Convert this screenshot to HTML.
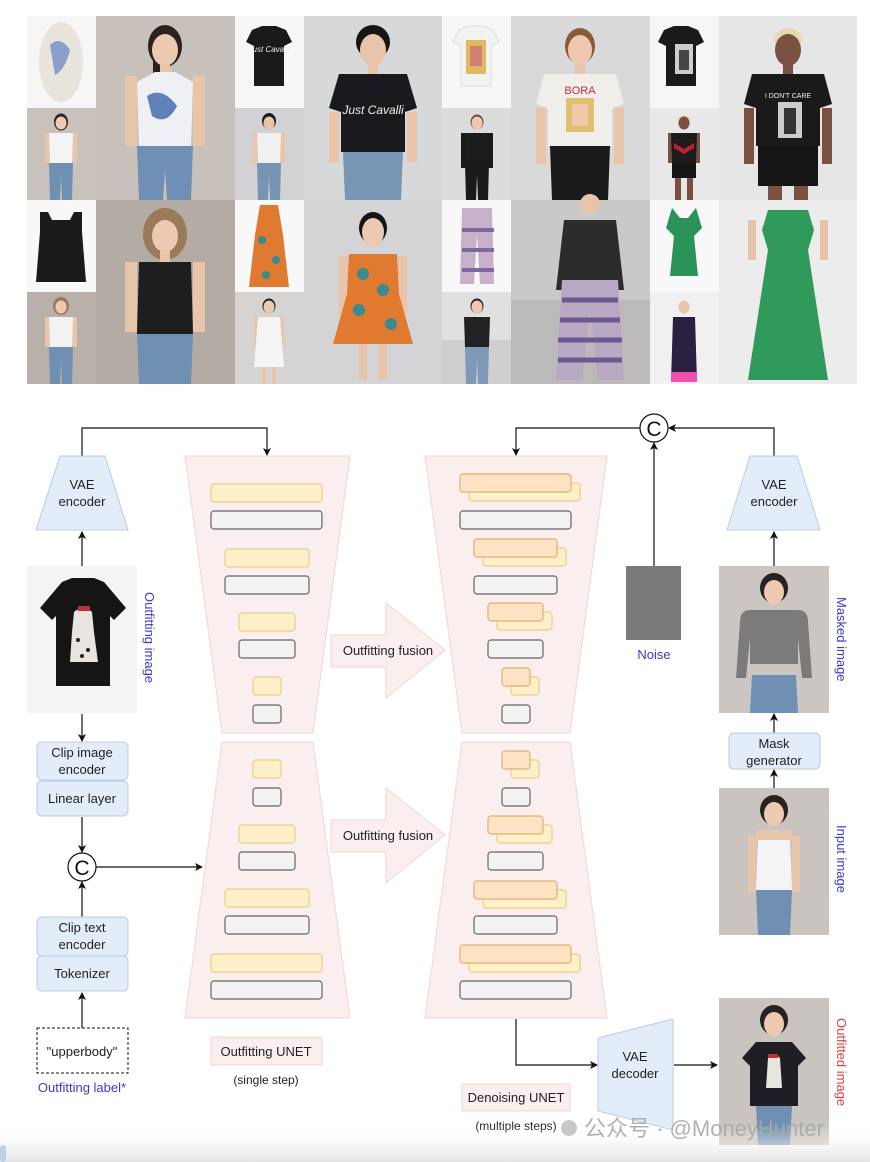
<!DOCTYPE html>
<html><head><meta charset="utf-8"><style>
html,body{margin:0;padding:0;background:#fff;}
svg{display:block;font-family:"Liberation Sans","Noto Sans CJK SC",sans-serif;}
</style></head><body>
<svg width="870" height="1162" viewBox="0 0 870 1162" xmlns="http://www.w3.org/2000/svg">
<defs>
<marker id="ah" markerWidth="8" markerHeight="8" refX="7" refY="4" orient="auto" markerUnits="userSpaceOnUse">
<path d="M0,0 L8,4 L0,8 L2,4 z" fill="#111"/></marker>
<linearGradient id="bot" x1="0" y1="0" x2="0" y2="1"><stop offset="0" stop-color="#fff" stop-opacity="0"/><stop offset="1" stop-color="#e4e4e4"/></linearGradient>
</defs>

<!-- ===== PHOTO GRID ===== -->
<!-- small garment cells -->
<rect x="27" y="16" width="69" height="92" fill="#f6f6f6"/>
<rect x="235" y="16" width="69" height="92" fill="#f6f6f6"/>
<rect x="442" y="16" width="69" height="92" fill="#f6f6f6"/>
<rect x="650" y="16" width="69" height="92" fill="#f6f6f6"/>
<rect x="27" y="200" width="69" height="92" fill="#f8f8f8"/>
<rect x="235" y="200" width="69" height="92" fill="#f8f8f8"/>
<rect x="442" y="200" width="69" height="92" fill="#f8f8f8"/>
<rect x="650" y="200" width="69" height="92" fill="#f8f8f8"/>
<!-- garments -->
<ellipse cx="61" cy="62" rx="22" ry="40" fill="#e8e4dc"/><path d="M50,45 q10,-10 20,5 q-5,20 -15,25z" fill="#8aa0c8"/>
<path d="M252,30 l10,-4 h14 l10,4 l6,12 l-8,4 v40 h-30 v-40 l-8,-4z" fill="#1a1a1c"/><text x="269" y="52" font-size="8" fill="#eee" text-anchor="middle" font-style="italic">Just Cavalli</text>
<path d="M459,30 l10,-4 h14 l10,4 l6,12 l-8,4 v40 h-30 v-40 l-8,-4z" fill="#f2f2f2" stroke="#ddd"/><rect x="466" y="40" width="20" height="34" fill="#e0b860"/><rect x="470" y="46" width="12" height="20" fill="#d08070"/>
<path d="M664,30 l10,-4 h14 l10,4 l6,12 l-8,4 v40 h-30 v-40 l-8,-4z" fill="#1a1a1c"/><rect x="675" y="44" width="18" height="30" fill="#ccc"/><rect x="679" y="50" width="10" height="20" fill="#444"/>
<path d="M40,212 h8 l4,8 h18 l4,-8 h8 v20 l4,50 h-50 l4,-50z" fill="#1b1b1b"/>
<path d="M260,205 h18 l5,30 l6,52 h-40 l6,-52z" fill="#e07a30"/><circle cx="262" cy="240" r="4" fill="#3a8a90"/><circle cx="276" cy="260" r="4" fill="#3a8a90"/><circle cx="266" cy="275" r="4" fill="#3a8a90"/>
<path d="M462,208 h30 l2,76 h-14 l-3,-50 l-3,50 h-14z" fill="#c8b0c8"/><path d="M462,230 h32 M462,250 h32 M462,270 h32" stroke="#7a6aa0" stroke-width="4"/>
<path d="M672,208 l8,10 h8 l8,-10 l6,20 l-8,8 l4,40 h-28 l4,-40 l-8,-8z" fill="#2a9458"/>

<!-- person helper: drawn manually -->
<!-- Small persons row1 -->
<rect x="27" y="108" width="69" height="92" fill="#c9c1bc"/>
<g transform="translate(61,108) scale(0.5)"><ellipse cx="0" cy="28" rx="14" ry="17" fill="#2a2220"/><ellipse cx="0" cy="30" rx="11" ry="13" fill="#ecc9b0"/><rect x="-32" y="50" width="10" height="60" fill="#e8c4a8"/><rect x="22" y="50" width="10" height="60" fill="#e8c4a8"/><path d="M-24,50 h48 l-2,60 h-44z" fill="#f4f4f4"/><path d="M-24,110 h48 l-2,74 h-20 l-2,-50 l-2,50 h-20z" fill="#6f8fb3"/></g>
<rect x="235" y="108" width="69" height="92" fill="#d2d2d4"/>
<g transform="translate(269,108) scale(0.5)"><ellipse cx="0" cy="26" rx="14" ry="16" fill="#1a1a1a"/><ellipse cx="0" cy="30" rx="11" ry="13" fill="#e8c4a8"/><rect x="-32" y="50" width="10" height="60" fill="#e8c4a8"/><rect x="22" y="50" width="10" height="60" fill="#e8c4a8"/><path d="M-24,50 h48 l-2,60 h-44z" fill="#f0f0f0"/><path d="M-24,110 h48 l-2,74 h-20 l-2,-50 l-2,50 h-20z" fill="#7794b4"/></g>
<rect x="442" y="108" width="69" height="92" fill="#dcdcdc"/>
<g transform="translate(477,108) scale(0.5)"><ellipse cx="0" cy="28" rx="13" ry="15" fill="#6a4a3a"/><ellipse cx="0" cy="30" rx="11" ry="13" fill="#ecc9b0"/><rect x="-32" y="50" width="10" height="70" fill="#1a1a1a"/><rect x="22" y="50" width="10" height="70" fill="#1a1a1a"/><path d="M-24,50 h48 l-2,60 h-44z" fill="#1c1c1c"/><path d="M-24,110 h48 l-2,74 h-20 l-2,-50 l-2,50 h-20z" fill="#1a1a1a"/></g>
<rect x="650" y="108" width="69" height="92" fill="#e8e8e8"/>
<g transform="translate(684,108) scale(0.5)"><ellipse cx="0" cy="24" rx="12" ry="10" fill="#e8d8b0"/><ellipse cx="0" cy="30" rx="11" ry="13" fill="#7a5040"/><rect x="-32" y="50" width="10" height="60" fill="#7a5040"/><rect x="22" y="50" width="10" height="60" fill="#7a5040"/><path d="M-26,50 h52 l-2,60 h-48z" fill="#1c1c1c"/><path d="M-20,70 l20,12 l20,-12 v10 l-20,12 l-20,-12z" fill="#c02030"/><path d="M-24,110 h48 v30 h-48z" fill="#151515"/><rect x="-18" y="140" width="12" height="44" fill="#7a5040"/><rect x="6" y="140" width="12" height="44" fill="#7a5040"/></g>
<!-- Small persons row2 -->
<rect x="27" y="292" width="69" height="92" fill="#b9b0aa"/>
<g transform="translate(61,292) scale(0.5)"><ellipse cx="0" cy="28" rx="16" ry="18" fill="#9a7a58"/><ellipse cx="0" cy="30" rx="11" ry="13" fill="#ecc9b0"/><rect x="-32" y="50" width="10" height="60" fill="#e8c4a8"/><rect x="22" y="50" width="10" height="60" fill="#e8c4a8"/><path d="M-24,50 h48 l-2,60 h-44z" fill="#f2f2f2"/><path d="M-24,110 h48 l-2,74 h-20 l-2,-50 l-2,50 h-20z" fill="#6f8fb3"/></g>
<rect x="235" y="292" width="69" height="92" fill="#d6d4d2"/>
<g transform="translate(269,292) scale(0.5)"><ellipse cx="0" cy="28" rx="13" ry="15" fill="#1a1a1a"/><ellipse cx="0" cy="30" rx="11" ry="13" fill="#ecc9b0"/><rect x="-30" y="50" width="9" height="60" fill="#e8c4a8"/><rect x="21" y="50" width="9" height="60" fill="#e8c4a8"/><path d="M-22,50 h44 l8,100 h-60z" fill="#f4f4f4"/><rect x="-14" y="150" width="8" height="34" fill="#e8c4a8"/><rect x="6" y="150" width="8" height="34" fill="#e8c4a8"/></g>
<rect x="442" y="292" width="69" height="92" fill="#e0e0e0"/><rect x="442" y="340" width="69" height="44" fill="#d0cfcd"/>
<g transform="translate(477,292) scale(0.5)"><ellipse cx="0" cy="28" rx="13" ry="15" fill="#2a2220"/><ellipse cx="0" cy="30" rx="11" ry="13" fill="#ecc9b0"/><path d="M-26,50 h52 l-2,60 h-48z" fill="#222"/><path d="M-24,110 h48 l-2,74 h-20 l-2,-50 l-2,50 h-20z" fill="#7f9ab8"/></g>
<rect x="650" y="292" width="69" height="92" fill="#f0f0f0"/>
<g transform="translate(684,292) scale(0.5)"><ellipse cx="0" cy="30" rx="11" ry="13" fill="#e8c4a8"/><path d="M-22,50 h44 l4,130 h-52z" fill="#2a2040"/><rect x="-26" y="160" width="52" height="20" fill="#f050b0"/></g>

<!-- Big persons row1 -->
<rect x="96" y="16" width="139" height="184" fill="#c7c0bb"/>
<g transform="translate(165,16)"><ellipse cx="0" cy="30" rx="17" ry="21" fill="#2a2220"/><rect x="-12" y="30" width="8" height="50" fill="#2a2220"/><ellipse cx="0" cy="34" rx="13" ry="16" fill="#ecc9b0"/><rect x="-5" y="48" width="10" height="12" fill="#e8c4a8"/><rect x="-40" y="60" width="12" height="70" fill="#e8c4a8"/><rect x="28" y="60" width="12" height="70" fill="#e8c4a8"/><path d="M-10,56 h20 l18,10 l-2,64 h-52 l-2,-64z" fill="#eef0f4"/><path d="M-18,80 q15,-10 30,10 q-10,20 -25,10z" fill="#6080b8"/><path d="M-28,130 h56 l-2,54 h-24 l-2,-30 l-2,30 h-24z" fill="#6f90b4"/></g>
<rect x="304" y="16" width="138" height="184" fill="#d7d8da"/>
<g transform="translate(373,16)"><ellipse cx="0" cy="26" rx="17" ry="17" fill="#151515"/><ellipse cx="0" cy="34" rx="13" ry="16" fill="#e8c4a8"/><rect x="-5" y="48" width="10" height="12" fill="#e8c4a8"/><path d="M-34,58 h68 l10,34 l-12,4 v40 h-64 v-40 l-12,-4z" fill="#1a1a1e"/><text x="0" y="98" font-size="12" fill="#eee" text-anchor="middle" font-style="italic">Just Cavalli</text><rect x="-44" y="96" width="10" height="50" fill="#e8c4a8"/><rect x="34" y="96" width="10" height="50" fill="#e8c4a8"/><path d="M-30,136 h60 l-2,48 h-56z" fill="#7996b4"/></g>
<rect x="511" y="16" width="139" height="184" fill="#d9d9d9"/>
<g transform="translate(580,16)"><ellipse cx="0" cy="30" rx="15" ry="18" fill="#8a5a3a"/><ellipse cx="0" cy="34" rx="12" ry="15" fill="#ecc9b0"/><rect x="-5" y="48" width="10" height="12" fill="#e8c4a8"/><path d="M-36,58 h72 l8,30 l-12,4 v38 h-64 v-38 l-12,-4z" fill="#f0eeea"/><text x="0" y="78" font-size="11" fill="#c03030" text-anchor="middle">BORA</text><rect x="-14" y="82" width="28" height="34" fill="#e0c070"/><rect x="-8" y="88" width="16" height="22" fill="#f0c8a8"/><rect x="-44" y="92" width="10" height="56" fill="#e8c4a8"/><rect x="34" y="92" width="10" height="56" fill="#e8c4a8"/><path d="M-30,130 h60 l-2,54 h-56z" fill="#1b1b1b"/></g>
<rect x="719" y="16" width="138" height="184" fill="#e6e6e6"/>
<g transform="translate(788,16)"><ellipse cx="0" cy="24" rx="14" ry="12" fill="#e8d8b0"/><ellipse cx="0" cy="34" rx="13" ry="16" fill="#7a5040"/><rect x="-5" y="48" width="10" height="12" fill="#7a5040"/><path d="M-36,58 h72 l8,30 l-12,4 v38 h-64 v-38 l-12,-4z" fill="#1a1a1a"/><text x="0" y="82" font-size="7" fill="#eee" text-anchor="middle">I DON'T CARE</text><rect x="-10" y="86" width="24" height="36" fill="#ccc"/><rect x="-4" y="92" width="12" height="26" fill="#333"/><rect x="-44" y="92" width="10" height="56" fill="#7a5040"/><rect x="34" y="92" width="10" height="56" fill="#7a5040"/><path d="M-30,130 h60 v40 h-60z" fill="#151515"/><rect x="-20" y="170" width="14" height="14" fill="#7a5040"/><rect x="6" y="170" width="14" height="14" fill="#7a5040"/></g>
<!-- Big persons row2 -->
<rect x="96" y="200" width="139" height="184" fill="#b4aba5"/>
<g transform="translate(165,200)"><ellipse cx="0" cy="34" rx="22" ry="26" fill="#9a7a58"/><ellipse cx="0" cy="36" rx="13" ry="16" fill="#ecc9b0"/><rect x="-5" y="50" width="10" height="12" fill="#e8c4a8"/><rect x="-40" y="62" width="12" height="70" fill="#e8c4a8"/><rect x="28" y="62" width="12" height="70" fill="#e8c4a8"/><path d="M-26,62 h52 l2,72 h-56z" fill="#1e1e1e"/><path d="M-28,134 h56 l-2,50 h-52z" fill="#6f8fb3"/></g>
<rect x="304" y="200" width="138" height="184" fill="#d4d4d6"/>
<g transform="translate(373,200)"><ellipse cx="0" cy="28" rx="14" ry="16" fill="#151515"/><ellipse cx="0" cy="32" rx="11" ry="14" fill="#ecc9b0"/><rect x="-34" y="56" width="9" height="60" fill="#e8c4a8"/><rect x="25" y="56" width="9" height="60" fill="#e8c4a8"/><path d="M-24,54 h48 l2,40 l14,50 h-80 l14,-50z" fill="#e07a30"/><circle cx="-10" cy="74" r="6" fill="#3a8a90"/><circle cx="10" cy="90" r="6" fill="#3a8a90"/><circle cx="-14" cy="110" r="6" fill="#3a8a90"/><circle cx="18" cy="124" r="6" fill="#3a8a90"/><rect x="-14" y="144" width="8" height="36" fill="#e8c4a8"/><rect x="6" y="144" width="8" height="36" fill="#e8c4a8"/></g>
<rect x="511" y="200" width="139" height="184" fill="#cbc9c7"/><rect x="511" y="300" width="139" height="84" fill="#bcbab8"/>
<g transform="translate(590,200)"><ellipse cx="0" cy="4" rx="10" ry="10" fill="#e8c4a8"/><path d="M-26,20 h52 l8,70 h-68z" fill="#2c2c2c"/><path d="M-28,80 h56 l6,100 h-26 l-8,-70 l-8,70 h-26z" fill="#b8a8c4"/><path d="M-28,100 h56 M-30,120 h60 M-32,140 h64 M-32,160 h64" stroke="#6a5a90" stroke-width="5"/></g>
<rect x="719" y="200" width="138" height="184" fill="#ececec"/>
<g transform="translate(788,200)"><path d="M-20,10 h40 l6,20 l-6,20 l20,130 h-80 l20,-130 l-6,-20z" fill="#2f9a5a"/><rect x="-40" y="20" width="8" height="40" fill="#e8c4a8"/><rect x="32" y="20" width="8" height="40" fill="#e8c4a8"/></g>

<!-- ===== DIAGRAM ===== -->
<g fill="none" stroke="#111" stroke-width="1.2">
<path d="M82,457 V428 H267 V455" marker-end="url(#ah)"/>
<path d="M82,566 V532" marker-end="url(#ah)"/>
<path d="M82,714 V741" marker-end="url(#ah)"/>
<path d="M82,817 V852" marker-end="url(#ah)"/>
<path d="M82,917 V882" marker-end="url(#ah)"/>
<path d="M82,1028 V993" marker-end="url(#ah)"/>
<path d="M96,867 H202" marker-end="url(#ah)"/>
<path d="M640,428 H516 V455" marker-end="url(#ah)"/>
<path d="M654,566 V443" marker-end="url(#ah)"/>
<path d="M774,457 V428 H669" marker-end="url(#ah)"/>
<path d="M774,566 V532" marker-end="url(#ah)"/>
<path d="M774,733 V714" marker-end="url(#ah)"/>
<path d="M774,788 V770" marker-end="url(#ah)"/>
<path d="M516,1019 V1065 H597" marker-end="url(#ah)"/>
<path d="M674,1065 H717" marker-end="url(#ah)"/>
</g>

<!-- VAE encoders -->
<path d="M60,456 H105 L128,530 H36 Z" fill="#e3ecf9" stroke="#b9cbe6"/>
<text x="82" y="489" font-size="13" text-anchor="middle" fill="#222">VAE</text>
<text x="82" y="506" font-size="13" text-anchor="middle" fill="#222">encoder</text>
<path d="M750,456 H797 L820,530 H727 Z" fill="#e3ecf9" stroke="#b9cbe6"/>
<text x="774" y="489" font-size="13" text-anchor="middle" fill="#222">VAE</text>
<text x="774" y="506" font-size="13" text-anchor="middle" fill="#222">encoder</text>

<!-- outfitting image -->
<rect x="27" y="566" width="110" height="147" fill="#f4f4f4"/>
<path d="M62,582 l10,-4 h22 l10,4 l22,26 l-12,12 l-4,-4 v70 h-54 v-70 l-4,4 l-12,-12z" fill="#151515"/>
<path d="M74,612 q10,-8 18,0 l2,20 l4,30 h-28 l2,-30z" fill="#e8e4e0"/><circle cx="78" cy="640" r="2" fill="#222"/><circle cx="88" cy="650" r="2" fill="#222"/><circle cx="82" cy="656" r="2" fill="#222"/><rect x="78" y="606" width="12" height="5" fill="#c03030"/>
<text transform="translate(145,592) rotate(90)" font-size="13" fill="#3a3ad0">Outfitting image</text>

<!-- clip image encoder / linear layer -->
<rect x="37" y="742" width="91" height="38" rx="5" fill="#e3ecf9" stroke="#b9cbe6"/>
<text x="82" y="757" font-size="13" text-anchor="middle" fill="#222">Clip image</text>
<text x="82" y="774" font-size="13" text-anchor="middle" fill="#222">encoder</text>
<rect x="37" y="781" width="91" height="35" rx="5" fill="#e3ecf9" stroke="#b9cbe6"/>
<text x="82" y="803" font-size="13" text-anchor="middle" fill="#222">Linear layer</text>
<circle cx="82" cy="867" r="14" fill="#fff" stroke="#111" stroke-width="1.2"/>
<text x="82" y="875" font-size="21" text-anchor="middle" fill="#111">C</text>
<rect x="37" y="917" width="91" height="39" rx="5" fill="#e3ecf9" stroke="#b9cbe6"/>
<text x="82" y="932" font-size="13" text-anchor="middle" fill="#222">Clip text</text>
<text x="82" y="949" font-size="13" text-anchor="middle" fill="#222">encoder</text>
<rect x="37" y="956" width="91" height="35" rx="5" fill="#e3ecf9" stroke="#b9cbe6"/>
<text x="82" y="978" font-size="13" text-anchor="middle" fill="#222">Tokenizer</text>
<rect x="37" y="1028" width="91" height="45" fill="#fff" stroke="#111" stroke-dasharray="3,2"/>
<text x="82" y="1056" font-size="13" text-anchor="middle" fill="#222">"upperbody"</text>
<text x="82" y="1092" font-size="13" text-anchor="middle" fill="#3a3ad0">Outfitting label*</text>

<!-- Outfitting UNET -->
<path d="M185,456 H350 L313,733 H222 Z" fill="#fbeeee" stroke="#f2d4d4" stroke-linejoin="round"/>
<path d="M222,742 H313 L350,1018 H185 Z" fill="#fbeeee" stroke="#f2d4d4" stroke-linejoin="round"/>
<g stroke-width="1.2">
<rect x="211" y="484" width="111" height="18" rx="3" fill="#fdf0c8" stroke="#e8cf8a"/>
<rect x="211" y="511" width="111" height="18" rx="3" fill="#f3f3f3" stroke="#666"/>
<rect x="225" y="549" width="84" height="18" rx="3" fill="#fdf0c8" stroke="#e8cf8a"/>
<rect x="225" y="576" width="84" height="18" rx="3" fill="#f3f3f3" stroke="#666"/>
<rect x="239" y="613" width="56" height="18" rx="3" fill="#fdf0c8" stroke="#e8cf8a"/>
<rect x="239" y="640" width="56" height="18" rx="3" fill="#f3f3f3" stroke="#666"/>
<rect x="253" y="677" width="28" height="18" rx="3" fill="#fdf0c8" stroke="#e8cf8a"/>
<rect x="253" y="705" width="28" height="18" rx="3" fill="#f3f3f3" stroke="#666"/>
<rect x="253" y="760" width="28" height="18" rx="3" fill="#fdf0c8" stroke="#e8cf8a"/>
<rect x="253" y="788" width="28" height="18" rx="3" fill="#f3f3f3" stroke="#666"/>
<rect x="239" y="825" width="56" height="18" rx="3" fill="#fdf0c8" stroke="#e8cf8a"/>
<rect x="239" y="852" width="56" height="18" rx="3" fill="#f3f3f3" stroke="#666"/>
<rect x="225" y="889" width="84" height="18" rx="3" fill="#fdf0c8" stroke="#e8cf8a"/>
<rect x="225" y="916" width="84" height="18" rx="3" fill="#f3f3f3" stroke="#666"/>
<rect x="211" y="954" width="111" height="18" rx="3" fill="#fdf0c8" stroke="#e8cf8a"/>
<rect x="211" y="981" width="111" height="18" rx="3" fill="#f3f3f3" stroke="#666"/>
</g>
<rect x="211" y="1037" width="111" height="28" fill="#fbeeee" stroke="#f2d4d4"/>
<text x="266" y="1056" font-size="13" text-anchor="middle" fill="#222">Outfitting UNET</text>
<text x="266" y="1084" font-size="12" text-anchor="middle" fill="#222">(single step)</text>

<!-- fusion arrows -->
<path d="M331,635 H386 V603 L445,650 L386,698 V667 H331 Z" fill="#fbeeee" stroke="#f2d4d4"/>
<text x="388" y="655" font-size="13" text-anchor="middle" fill="#222">Outfitting fusion</text>
<path d="M331,820 H386 V788 L445,835 L386,883 V852 H331 Z" fill="#fbeeee" stroke="#f2d4d4"/>
<text x="388" y="840" font-size="13" text-anchor="middle" fill="#222">Outfitting fusion</text>

<!-- Denoising UNET -->
<path d="M425,456 H607 L570,733 H462 Z" fill="#fbeeee" stroke="#f2d4d4" stroke-linejoin="round"/>
<path d="M462,742 H570 L607,1018 H425 Z" fill="#fbeeee" stroke="#f2d4d4" stroke-linejoin="round"/>
<g stroke-width="1.2">
<rect x="469" y="483" width="111" height="18" rx="3" fill="#fdf0c8" stroke="#e8cf8a"/>
<rect x="460" y="474" width="111" height="18" rx="3" fill="#fde2c4" stroke="#e0b070"/>
<rect x="460" y="511" width="111" height="18" rx="3" fill="#f3f3f3" stroke="#666"/>
<rect x="483" y="548" width="83" height="18" rx="3" fill="#fdf0c8" stroke="#e8cf8a"/>
<rect x="474" y="539" width="83" height="18" rx="3" fill="#fde2c4" stroke="#e0b070"/>
<rect x="474" y="576" width="83" height="18" rx="3" fill="#f3f3f3" stroke="#666"/>
<rect x="497" y="612" width="55" height="18" rx="3" fill="#fdf0c8" stroke="#e8cf8a"/>
<rect x="488" y="603" width="55" height="18" rx="3" fill="#fde2c4" stroke="#e0b070"/>
<rect x="488" y="640" width="55" height="18" rx="3" fill="#f3f3f3" stroke="#666"/>
<rect x="511" y="677" width="28" height="18" rx="3" fill="#fdf0c8" stroke="#e8cf8a"/>
<rect x="502" y="668" width="28" height="18" rx="3" fill="#fde2c4" stroke="#e0b070"/>
<rect x="502" y="705" width="28" height="18" rx="3" fill="#f3f3f3" stroke="#666"/>
<rect x="511" y="760" width="28" height="18" rx="3" fill="#fdf0c8" stroke="#e8cf8a"/>
<rect x="502" y="751" width="28" height="18" rx="3" fill="#fde2c4" stroke="#e0b070"/>
<rect x="502" y="788" width="28" height="18" rx="3" fill="#f3f3f3" stroke="#666"/>
<rect x="497" y="825" width="55" height="18" rx="3" fill="#fdf0c8" stroke="#e8cf8a"/>
<rect x="488" y="816" width="55" height="18" rx="3" fill="#fde2c4" stroke="#e0b070"/>
<rect x="488" y="852" width="55" height="18" rx="3" fill="#f3f3f3" stroke="#666"/>
<rect x="483" y="890" width="83" height="18" rx="3" fill="#fdf0c8" stroke="#e8cf8a"/>
<rect x="474" y="881" width="83" height="18" rx="3" fill="#fde2c4" stroke="#e0b070"/>
<rect x="474" y="916" width="83" height="18" rx="3" fill="#f3f3f3" stroke="#666"/>
<rect x="469" y="954" width="111" height="18" rx="3" fill="#fdf0c8" stroke="#e8cf8a"/>
<rect x="460" y="945" width="111" height="18" rx="3" fill="#fde2c4" stroke="#e0b070"/>
<rect x="460" y="981" width="111" height="18" rx="3" fill="#f3f3f3" stroke="#666"/>
</g>
<rect x="462" y="1084" width="108" height="27" fill="#fbeeee" stroke="#f2d4d4"/>
<text x="516" y="1102" font-size="13" text-anchor="middle" fill="#222">Denoising UNET</text>
<text x="516" y="1130" font-size="12" text-anchor="middle" fill="#222">(multiple steps)</text>

<!-- C top -->
<circle cx="654" cy="428" r="14" fill="#fff" stroke="#111" stroke-width="1.2"/>
<text x="654" y="436" font-size="21" text-anchor="middle" fill="#111">C</text>

<!-- Noise -->
<rect x="626" y="566" width="55" height="74" fill="#7a7a7a"/>
<text x="654" y="659" font-size="13" text-anchor="middle" fill="#3a3ad0">Noise</text>

<!-- masked image -->
<rect x="719" y="566" width="110" height="147" fill="#cbc6c2"/>
<ellipse cx="774" cy="588" rx="14" ry="15" fill="#2a2220"/><ellipse cx="774" cy="592" rx="10" ry="12" fill="#ecc9b0"/>
<path d="M750,610 h48 q10,0 10,12 l4,56 h-10 l-4,-40 v26 h-48 v-26 l-4,40 h-10 l4,-56 q0,-12 10,-12z" fill="#7b7b7b"/>
<path d="M752,675 h44 l2,38 h-48z" fill="#6f8fb3"/>
<text transform="translate(837,597) rotate(90)" font-size="13" fill="#3a3ad0">Masked image</text>

<!-- mask generator -->
<rect x="729" y="733" width="91" height="36" rx="5" fill="#e3ecf9" stroke="#b9cbe6"/>
<text x="774" y="748" font-size="13" text-anchor="middle" fill="#222">Mask</text>
<text x="774" y="765" font-size="13" text-anchor="middle" fill="#222">generator</text>

<!-- input image -->
<rect x="719" y="788" width="110" height="147" fill="#c9c4c0"/>
<ellipse cx="774" cy="810" rx="14" ry="15" fill="#2a2220"/><ellipse cx="774" cy="814" rx="10" ry="12" fill="#ecc9b0"/>
<rect x="756" y="830" width="36" height="10" fill="#e8c4a8"/>
<path d="M758,840 h32 l2,50 h-36z" fill="#f4f4f4"/>
<rect x="748" y="836" width="8" height="56" fill="#e8c4a8"/><rect x="792" y="836" width="8" height="56" fill="#e8c4a8"/>
<path d="M756,890 h36 l-2,45 h-32z" fill="#6f8fb3"/>
<text transform="translate(837,825) rotate(90)" font-size="13" fill="#3a3ad0">Input image</text>

<!-- VAE decoder -->
<path d="M598,1038 L673,1019 V1130 L598,1111 Z" fill="#e3ecf9" stroke="#b9cbe6"/>
<text x="635" y="1061" font-size="13" text-anchor="middle" fill="#222">VAE</text>
<text x="635" y="1078" font-size="13" text-anchor="middle" fill="#222">decoder</text>

<!-- outfitted image -->
<rect x="719" y="998" width="110" height="147" fill="#c9c4c0"/>
<ellipse cx="774" cy="1020" rx="14" ry="15" fill="#2a2220"/><ellipse cx="774" cy="1024" rx="10" ry="12" fill="#ecc9b0"/>
<path d="M756,1042 h36 l14,16 l-8,8 v40 h-48 v-40 l-8,-8z" fill="#1e1e24"/>
<path d="M768,1058 q6,-6 12,0 l2,30 h-16z" fill="#e8e4e0"/><rect x="768" y="1054" width="10" height="4" fill="#c03030"/>
<path d="M756,1106 h36 l-2,39 h-32z" fill="#6f8fb3"/>
<text transform="translate(837,1018) rotate(90)" font-size="13" fill="#e04040">Outfitted image</text>

<!-- bottom fade + watermark -->
<rect x="0" y="1125" width="870" height="37" fill="url(#bot)"/>
<circle cx="569" cy="1128" r="8" fill="#c8c8c8"/>
<text x="584" y="1136" font-size="22" fill="#a8a8a8" fill-opacity="0.9">公众号 · @MoneyHunter</text>
<rect x="0" y="1145" width="6" height="17" rx="3" fill="#c0d0e8"/>
</svg>
</body></html>
